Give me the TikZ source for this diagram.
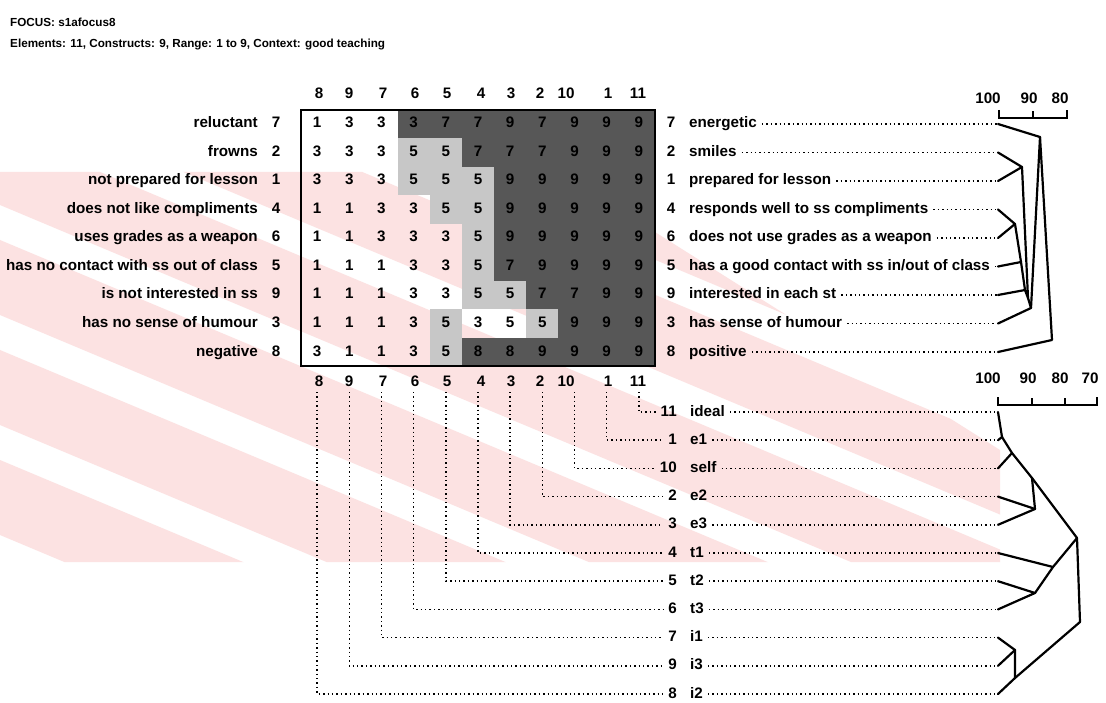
\documentclass[tikz,border=0pt]{standalone}
\usepackage{fontspec}
\setmainfont{Liberation Sans}
\definecolor{wm}{RGB}{252,226,226}
\tikzset{
 lbl/.style={inner sep=0pt, text height=11.2pt, text depth=3.2pt},
 lead/.style={line width=1.5pt, dash pattern=on 1.4pt off 3pt},
 dend/.style={line width=2.2pt, line join=round, line cap=round},
 scalebar/.style={line width=1.8pt},
 shW/.style={}, shL/.style={fill=black!22}, shD/.style={fill=black!66},
}
\begin{document}
\begin{tikzpicture}[x=1pt,y=-1pt,font=\fontsize{15.2}{17}\selectfont\bfseries]
\path[use as bounding box, fill=white] (0,0) rectangle (1106,703);
% watermark
\begin{scope}
\clip (0,172) -- (560,172) -- (1000,450) -- (1000,562) -- (0,562) -- cycle;
\foreach \c in {-420,-310,...,660} {\fill[wm] (0,\c) -- (1106,\c+464) -- (1106,\c+539) -- (0,\c+75) -- cycle;}
\end{scope}
% title
\node[lbl,anchor=west,font=\fontsize{11.7}{14}\selectfont\bfseries] (title) at (10,23) {FOCUS: s1afocus8};
\node[lbl,anchor=west,font=\fontsize{11.7}{14}\selectfont\bfseries] (sub) at (10,44) {Elements: 11, Constructs: 9, Range: 1 to 9, Context: good teaching};
% grid cells
\foreach [count=\i] \vals in {
 {1/W,3/W,3/W,3/D,7/D,7/D,9/D,7/D,9/D,9/D,9/D},
 {3/W,3/W,3/W,5/L,5/L,7/D,7/D,7/D,9/D,9/D,9/D},
 {3/W,3/W,3/W,5/L,5/L,5/L,9/D,9/D,9/D,9/D,9/D},
 {1/W,1/W,3/W,3/W,5/L,5/L,9/D,9/D,9/D,9/D,9/D},
 {1/W,1/W,3/W,3/W,3/W,5/L,9/D,9/D,9/D,9/D,9/D},
 {1/W,1/W,1/W,3/W,3/W,5/L,7/D,9/D,9/D,9/D,9/D},
 {1/W,1/W,1/W,3/W,3/W,5/L,5/L,7/D,7/D,9/D,9/D},
 {1/W,1/W,1/W,3/W,5/L,3/W,5/W,5/L,9/D,9/D,9/D},
 {3/W,1/W,1/W,3/W,5/L,8/D,8/D,9/D,9/D,9/D,9/D}} {
 \foreach [count=\k] \v/\s in \vals {
  \pgfmathsetmacro{\xa}{301+32.18*(\k-1)}
  \pgfmathsetmacro{\xb}{\xa+32.18}
  \pgfmathsetmacro{\yy}{124+28.5*(\i-1)}
  \path[sh\s] (\xa,\yy-14.25) rectangle (\xb,\yy+14.25);
  \node[lbl] (g\i-\k) at ({(\xa+\xb)/2},\yy) {\v};
 }
}
\draw[line width=1.8pt] (301,109.75) rectangle (655,366.25);
% column headers
\foreach \lab/\hx in {8/319,9/349,7/383,6/415,5/447,4/481,3/511,2/540,10/566,1/608,11/638} {
 \node[lbl] (ht\lab) at (\hx,95) {\lab};
 \node[lbl] (hb\lab) at (\hx,382) {\lab};
}
% constructs
\foreach [count=\i] \n/\l/\r in {
 7/reluctant/energetic,
 2/frowns/smiles,
 1/not prepared for lesson/prepared for lesson,
 4/does not like compliments/responds well to ss compliments,
 6/uses grades as a weapon/does not use grades as a weapon,
 5/has no contact with ss out of class/has a good contact with ss in\slash out of class,
 9/is not interested in ss/interested in each st,
 3/has no sense of humour/has sense of humour,
 8/negative/positive} {
 \pgfmathsetmacro{\yy}{124+28.5*(\i-1)}
 \node[lbl,anchor=east] (cl\i) at (258,\yy) {\l};
 \node[lbl] (cn\i) at (276,\yy) {\n};
 \node[lbl] (rn\i) at (671,\yy) {\n};
 \node[lbl,anchor=west] (cr\i) at (689,\yy) {\r};
 \coordinate (ce\i) at (998,\yy);
 \draw[lead] ([xshift=5pt]cr\i.east) -- (ce\i);
}
% elements
\foreach [count=\j] \n/\l/\k in {11/ideal/11,1/e1/10,10/self/9,2/e2/8,3/e3/7,4/t1/6,5/t2/5,6/t3/4,7/i1/3,9/i3/2,8/i2/1} {
 \pgfmathsetmacro{\yy}{412+28.2*(\j-1)}
 \pgfmathsetmacro{\xx}{317.1+32.18*(\k-1)}
 \coordinate (et\j) at (\xx,392);
 \coordinate (ec\j) at (\xx,\yy);
 \node[lbl,anchor=east] (en\j) at (677,\yy) {\n};
 \node[lbl,anchor=west] (el\j) at (690,\yy) {\l};
 \coordinate (dl\j) at (998,\yy);
 \draw[lead] (et\j) -- (ec\j) -- ([xshift=-5pt]en\j.west);
 \draw[lead] ([xshift=5pt]el\j.east) -- (dl\j);
}
% construct scale
\node[lbl] (cs100) at (988,100) {100};
\node[lbl] (cs90) at (1029,100) {90};
\node[lbl] (cs80) at (1060,100) {80};
\draw[scalebar] (999,110) -- (999,118) -- (1067,118) -- (1067,110);
\draw[scalebar] (1033,118) -- (1033,111);
% construct dendrogram
\coordinate (S1) at (1022,167);
\coordinate (C1) at (1015,224);
\coordinate (C2) at (1021,262);
\coordinate (C3) at (1025,290);
\coordinate (C4) at (1028,298);
\coordinate (C5) at (1031,308);
\coordinate (T) at (1040,137);
\coordinate (R) at (1052,340);
\draw[dend] (ce2) -- (S1) -- (ce3);
\draw[dend] (ce4) -- (C1) -- (ce5);
\draw[dend] (C1) -- (C2) -- (ce6);
\draw[dend] (C2) -- (C3) -- (ce7);
\draw[dend] (C3) -- (C4) -- (S1);
\draw[dend] (C4) -- (C5) -- (ce8);
\draw[dend] (ce1) -- (T) -- (C5);
\draw[dend] (T) -- (R) -- (ce9);
% element scale
\node[lbl] (es100) at (988,380) {100};
\node[lbl] (es90) at (1028,380) {90};
\node[lbl] (es80) at (1060,380) {80};
\node[lbl] (es70) at (1090,380) {70};
\draw[scalebar] (998,397) -- (998,405) -- (1097,405) -- (1097,397);
\draw[scalebar] (1032,405) -- (1032,398);
\draw[scalebar] (1065,405) -- (1065,398);
% element dendrogram
\coordinate (P1) at (1002,437);
\coordinate (P2) at (1012,453);
\coordinate (J1) at (1032,478);
\coordinate (B) at (1035,509);
\coordinate (J2) at (1077,538);
\coordinate (Ct) at (1035,593);
\coordinate (D) at (1053,567);
\coordinate (R2) at (1080,622);
\coordinate (E) at (1015,650);
\coordinate (F) at (1015,678);
\draw[dend] (dl1) -- (P1) -- (dl2);
\draw[dend] (P1) -- (P2) -- (dl3);
\draw[dend] (P2) -- (J1) -- (J2);
\draw[dend] (dl4) -- (B) -- (dl5);
\draw[dend] (B) -- (J1);
\draw[dend] (dl7) -- (Ct) -- (dl8);
\draw[dend] (dl6) -- (D) -- (Ct);
\draw[dend] (D) -- (J2) -- (R2);
\draw[dend] (dl9) -- (E) -- (dl10);
\draw[dend] (E) -- (F) -- (dl11);
\draw[dend] (F) -- (R2);
\end{tikzpicture}
\end{document}
